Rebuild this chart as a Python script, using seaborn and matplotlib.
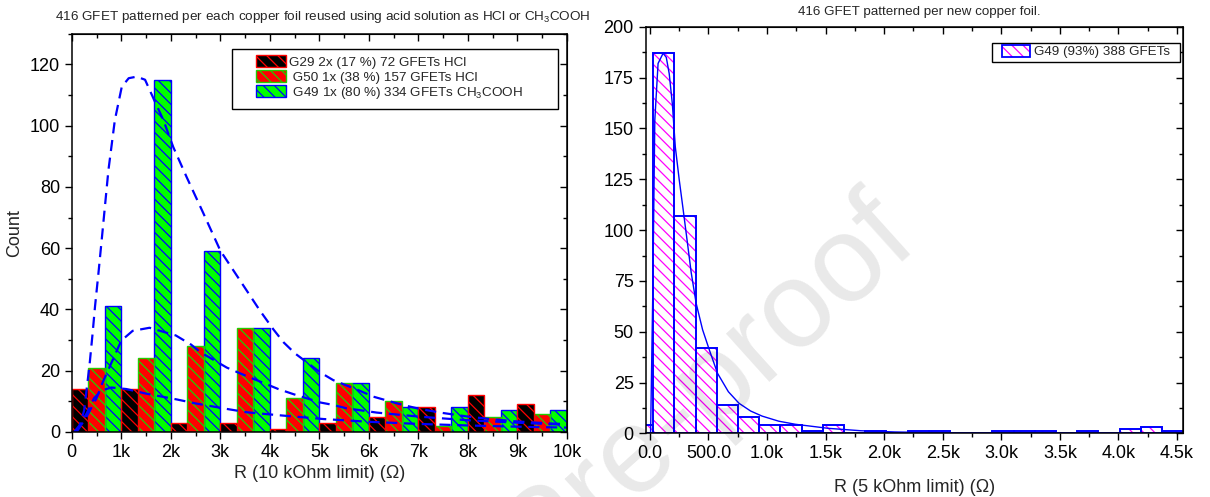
import numpy as np
import pandas as pd
import seaborn as sns
import matplotlib.pyplot as plt
from matplotlib.patches import Patch, Rectangle
from matplotlib.ticker import MultipleLocator
from matplotlib.colors import to_rgba

# ---- left panel: reused copper foils, 10 kOhm limit ----
r10_bin_start = [0, 1000, 2000, 3000, 4000, 5000, 6000, 7000, 8000, 9000]
g29_counts = [14, 14, 3, 3, 1, 3, 5, 8, 12, 9]
g50_counts = [21, 24, 28, 34, 11, 16, 10, 2, 5, 6]
g49_counts = [41, 115, 59, 34, 24, 16, 8, 8, 7, 7]
lots = ["G29", "G50", "G49"]
left_labels = ["G29 2x (17 %) 72 GFETs HCl",
               " G50 1x (38 %) 157 GFETs HCl",
               " G49 1x (80 %) 334 GFETs CH$_3$COOH"]

# dashed fit curves
fit_g49_x = [70, 150, 250, 360, 420, 470, 540, 610, 740, 870, 1010, 1150, 1310, 1480, 1680, 1850,
             2050, 2320, 2660, 3000, 3400, 3800, 4070, 4280, 4510, 5020, 5280, 5820, 6090, 6660,
             7000, 7440, 8000, 8500, 9000, 9500, 10000]
fit_g49_y = [0, 1.5, 7, 22, 32, 41, 52, 63.6, 85.4, 101.8, 112.7, 115.5, 116, 115, 107.8, 101.8,
             93, 83.2, 71.3, 59.2, 49.4, 39.6, 33.5, 29.2, 25.6, 19.4, 16.9, 13.4, 11.5, 8.9,
             7.6, 6.3, 5.0, 4.1, 3.4, 2.9, 2.5]
fit_g50_x = [100, 300, 500, 620, 1000, 1230, 1570, 2100, 2410, 2600, 3130, 3430, 4170, 4480, 5020,
             5280, 5550, 6160, 7000, 8000, 9000, 10000]
fit_g50_y = [0, 5, 11, 16, 29.8, 33, 34, 31.5, 28.5, 26, 21, 18.9, 14, 12.3, 9.6,
             8.8, 7.7, 6.3, 5.0, 3.8, 3.0, 2.3]
fit_g29_x = [50, 150, 300, 450, 600, 800, 1100, 1500, 2120, 2500, 3130, 3540, 4140, 5080, 6000,
             7000, 8000, 9000, 10000]
fit_g29_y = [0, 2, 6, 11, 13.5, 14.5, 14, 12.5, 10.6, 9.3, 7.5, 6.4, 5.5, 4.2, 3.3,
             2.6, 2.1, 1.7, 1.4]

# ---- right panel: new copper foil, 5 kOhm limit ----
r5_edges = [-153, 28, 209, 390, 571, 752, 933, 1114, 1295, 1476, 1657, 1838, 2019, 2200, 2381,
            2562, 2743, 2924, 3105, 3286, 3467, 3648, 3829, 4010, 4191, 4372, 4553]
r5_counts = [4, 187, 107, 42, 14, 8, 4, 4, 1, 4, 0, 1, 0, 1, 1, 0, 0, 1, 1, 1, 0, 1, 0, 2, 3, 1]
fit_r5_x = [6, 25, 42, 70, 113, 140, 165, 192, 217, 250, 282, 320, 353, 395, 450, 508, 578, 670,
            761, 860, 958, 1100, 1240, 1520, 1800, 2090, 2500, 3000, 3500, 4000, 4553]
fit_r5_y = [0, 70, 154, 182, 187, 185, 177, 162, 141, 125, 111, 94, 79, 64, 51, 41, 29.5, 20.5,
            14.8, 11, 8.5, 6, 4.5, 2.5, 1.3, 0.7, 0.3, 0.15, 0.08, 0.04, 0.02]

sns.set_style("ticks")
plt.rcParams["font.family"] = ["Liberation Sans", "DejaVu Sans"]
plt.rcParams["mathtext.fontset"] = "custom"
plt.rcParams["mathtext.rm"] = "Liberation Sans"
plt.rcParams["axes.edgecolor"] = "black"
plt.rcParams["xtick.color"] = "black"
plt.rcParams["ytick.color"] = "black"
plt.rcParams["hatch.linewidth"] = 0.9

HATCH = "\\\\\\"
palette = {"G29": "black", "G50": "red", "G49": "#00ff00"}
hatch_col = {"G29": "red", "G50": "#22cc00", "G49": "blue"}

fig = plt.figure(figsize=(12.1, 4.97), dpi=100)
ax1 = fig.add_axes([0.0593, 0.131, 0.4093, 0.801])
ax2 = fig.add_axes([0.5336, 0.128, 0.4443, 0.818])

# left histogram, three lots dodged inside every 1k bin
df = pd.DataFrame({
    "R": r10_bin_start * 3,
    "count": g29_counts + g50_counts + g49_counts,
    "lot": ["G29"] * 10 + ["G50"] * 10 + ["G49"] * 10,
})
sns.histplot(data=df, x="R", weights="count", hue="lot", hue_order=lots, palette=palette,
             bins=list(range(0, 10001, 1000)), multiple="dodge", shrink=1, alpha=1,
             linewidth=1, legend=False, ax=ax1)
for p in ax1.patches:
    fc = p.get_facecolor()
    for lot in lots:
        if np.allclose(fc, to_rgba(palette[lot])):
            p.set_hatch(HATCH)
            p.set_edgecolor(hatch_col[lot])

for fx, fy in [(fit_g49_x, fit_g49_y), (fit_g50_x, fit_g50_y), (fit_g29_x, fit_g29_y)]:
    sns.lineplot(x=fx, y=fy, color="#0000ff", lw=1.6, linestyle=(0, (5, 3)),
                 estimator=None, ax=ax1)

ax1.set_xlim(0, 10000)
ax1.set_ylim(0, 130)
xt = list(range(0, 10001, 1000))
ax1.set_xticks(xt, ["0"] + [f"{k}k" for k in range(1, 11)])
ax1.xaxis.set_minor_locator(MultipleLocator(500))
ax1.set_yticks(range(0, 121, 20))
ax1.yaxis.set_minor_locator(MultipleLocator(10))
ax1.set_xlabel("R (10 kOhm limit) (\u03a9)", fontsize=13, labelpad=3)
ax1.set_ylabel("Count", fontsize=13, labelpad=5)

# legend frame drawn as its own box, entries inside it
ax1.add_patch(Rectangle((0.3226, 0.8116), 0.6592, 0.1504, transform=ax1.transAxes,
                        facecolor="white", edgecolor="black", lw=1, zorder=4))
handles = [Patch(facecolor=palette[l], edgecolor=hatch_col[l], hatch=HATCH, lw=1) for l in lots]
ax1.legend(handles, left_labels, loc="center left", bbox_to_anchor=(0.3721, 0.8887),
           borderaxespad=0, borderpad=0, frameon=False, fontsize=9.7,
           handlelength=2.26, handleheight=0.96, labelspacing=0.1, handletextpad=0.19)

# right histogram: magenta hatch, blue outline
sns.histplot(x=r5_edges[:-1], weights=r5_counts, bins=r5_edges, color="white",
             edgecolor="magenta", hatch=HATCH, linewidth=0, alpha=1, ax=ax2)
sns.histplot(x=r5_edges[:-1], weights=r5_counts, bins=r5_edges, fill=False,
             color="blue", linewidth=1.4, ax=ax2)
sns.lineplot(x=fit_r5_x, y=fit_r5_y, color="blue", lw=1.0, estimator=None, ax=ax2)

ax2.set_xlim(-36, 4553)
ax2.set_ylim(0, 200)
ax2.set_xticks(range(0, 4501, 500),
               ["0.0", "500.0", "1.0k", "1.5k", "2.0k", "2.5k", "3.0k", "3.5k", "4.0k", "4.5k"])
ax2.xaxis.set_minor_locator(MultipleLocator(250))
ax2.set_yticks(range(0, 201, 25))
ax2.yaxis.set_minor_locator(MultipleLocator(12.5))
ax2.set_xlabel("R (5 kOhm limit) (\u03a9)", fontsize=13, labelpad=12)
ax2.set_ylabel("")

ax2.add_patch(Rectangle((0.644, 0.913), 0.3495, 0.047, transform=ax2.transAxes,
                        facecolor="white", edgecolor="black", lw=1, zorder=4))
h_back = Patch(facecolor="white", edgecolor="magenta", hatch=HATCH, lw=0)
h_edge = Patch(facecolor="none", edgecolor="blue", lw=1.3)
ax2.legend([(h_back, h_edge)], ["G49 (93%) 388 GFETs"], loc="center left",
           bbox_to_anchor=(0.662, 0.9386), borderaxespad=0, borderpad=0, frameon=False,
           fontsize=9.65, handlelength=2.1, handleheight=0.95, handletextpad=0.3)

for ax in (ax1, ax2):
    ax.tick_params(which="both", direction="out", labelsize=13, width=1)
    ax.tick_params(which="major", length=5)
    ax.tick_params(which="minor", length=3)
    for s in ax.spines.values():
        s.set_linewidth(1.1)
    top = ax.secondary_xaxis("top")
    top.set_xticks(ax.get_xticks())
    top.xaxis.set_minor_locator(ax.xaxis.get_minor_locator())
    top.tick_params(which="both", direction="in", labeltop=False, width=1)
    top.tick_params(which="major", length=5)
    top.tick_params(which="minor", length=3)
    right = ax.secondary_yaxis("right")
    right.set_yticks(ax.get_yticks())
    right.yaxis.set_minor_locator(ax.yaxis.get_minor_locator())
    right.tick_params(which="both", direction="in", labelright=False, width=1)
    right.tick_params(which="major", length=5)
    right.tick_params(which="minor", length=3)

fig.text(323 / 1210, 1 - 17 / 497,
         "416 GFET patterned per each copper foil reused using acid solution as HCl or CH$_3$COOH",
         ha="center", va="center", fontsize=9.7)
fig.text(919 / 1210, 1 - 12 / 497, "416 GFET patterned per new copper foil.",
         ha="center", va="center", fontsize=9.6)

# faint journal watermark
fig.text(539 / 1210, 1 - 580 / 497, "Pre-proof", rotation=42, rotation_mode="anchor",
         ha="left", va="baseline", fontsize=88, color="black", alpha=0.09, zorder=10)

fig.savefig("out.png", dpi=100)
